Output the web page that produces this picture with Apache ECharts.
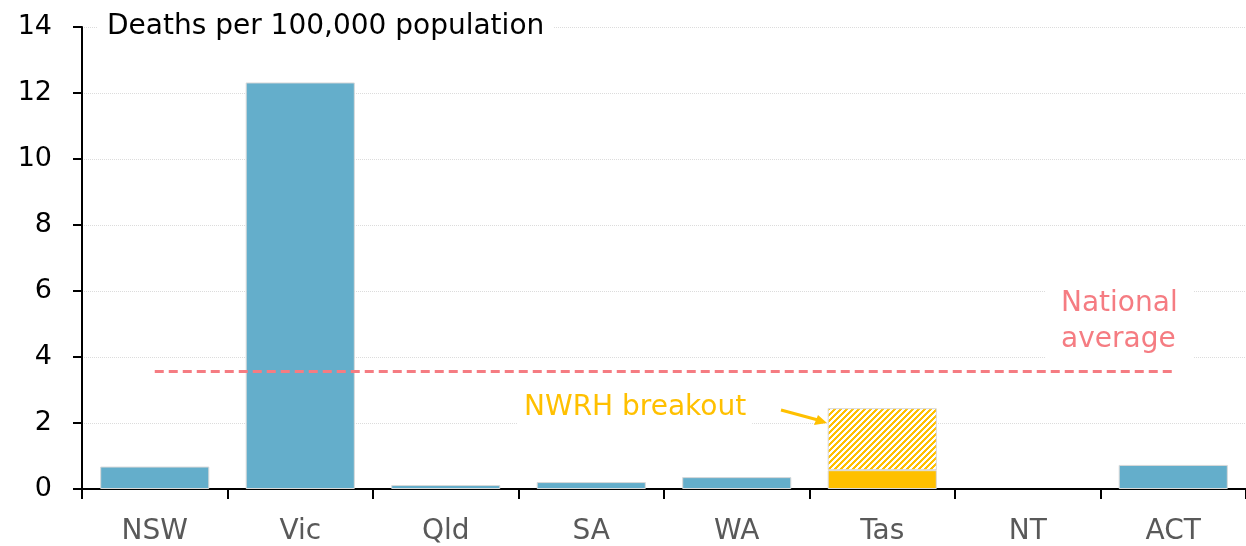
<!DOCTYPE html>
<html>
<head>
<meta charset="utf-8">
<script src="https://cdn.jsdelivr.net/npm/echarts@6/dist/echarts.min.js"></script>
<style>
html,body{margin:0;padding:0;background:#fff;}
#chart{width:1246px;height:546px;}
</style>
</head>
<body>
<div id="chart"></div>
<script>
const categories = ['NSW', 'Vic', 'Qld', 'SA', 'WA', 'Tas', 'NT', 'ACT'];
const deaths = [0.68, 12.32, 0.12, 0.21, 0.36, 0.57, 0, 0.73];
const nwrhBreakout = [null, null, null, null, null, 1.88, null, null];
const nationalAverage = 3.57;
const yTicks = [0, 2, 4, 6, 8, 10, 12, 14];

const FONT = 'DejaVu Sans';
const BLUE = '#64aecb';
const GOLD = '#ffc000';
const PINK = '#f57c82';

function hatch() {
  const c = document.createElement('canvas');
  c.width = 12; c.height = 12;
  const ctx = c.getContext('2d');
  ctx.fillStyle = '#fff';
  ctx.fillRect(0, 0, 12, 12);
  ctx.fillStyle = GOLD;
  for (let x = 0; x < 12; x++) {
    for (let y = 0; y < 12; y++) {
      if ((x + y) % 6 < 3) ctx.fillRect(x, y, 1, 1);
    }
  }
  return c;
}

const chart = echarts.init(document.getElementById('chart'));
chart.setOption({
  animation: false,
  textStyle: { fontFamily: FONT },
  grid: { left: 82, right: -5, top: 27, bottom: 56, containLabel: false },
  xAxis: {
    type: 'category',
    data: categories,
    boundaryGap: true,
    axisLine: { lineStyle: { color: '#000', width: 2 } },
    axisTick: { show: true, length: 10, lineStyle: { color: '#000', width: 2 } },
    axisLabel: { color: '#595959', fontSize: 28, margin: 29, fontFamily: FONT },
    splitLine: { show: false }
  },
  yAxis: {
    type: 'value',
    min: yTicks[0],
    max: yTicks[yTicks.length - 1],
    interval: 2,
    axisLine: { show: true, lineStyle: { color: '#000', width: 2 } },
    axisTick: { show: true, length: 9, lineStyle: { color: '#000', width: 2 } },
    axisLabel: { color: '#000', fontSize: 27, margin: 30, fontFamily: FONT },
    splitLine: { show: true, lineStyle: { color: '#dcdcdc', type: 'dotted', width: 1 } }
  },
  series: [
    {
      type: 'bar',
      name: 'Deaths',
      stack: 'a',
      barWidth: '75%',
      data: deaths.map((v, i) => ({
        value: v,
        itemStyle: {
          color: categories[i] === 'Tas' ? GOLD : BLUE,
          borderWidth: v === 0 ? 0 : 1
        }
      })),
      itemStyle: { borderColor: '#d9d9d9', borderWidth: 1 },
      markLine: {
        silent: true,
        symbol: ['none', 'none'],
        label: { show: false },
        lineStyle: { color: PINK, type: [9, 5], width: 3 },
        data: [[
          { xAxis: categories[0], yAxis: nationalAverage },
          { xAxis: categories[categories.length - 1], yAxis: nationalAverage }
        ]]
      }
    },
    {
      type: 'bar',
      name: 'NWRH breakout',
      stack: 'a',
      barWidth: '75%',
      data: nwrhBreakout,
      itemStyle: {
        color: { image: hatch(), repeat: 'repeat' },
        borderColor: '#d9d9d9',
        borderWidth: 1
      }
    }
  ],
  graphic: [
    {
      type: 'text', left: 98, top: 11, z: 100,
      style: {
        text: 'Deaths per 100,000 population', fill: '#000', font: '28px ' + FONT,
        backgroundColor: '#fff', padding: [2, 9]
      }
    },
    {
      type: 'text', left: 1045, top: 286, z: 100,
      style: {
        text: 'National\naverage', fill: PINK, font: '28px ' + FONT, align: 'center',
        lineHeight: 36, backgroundColor: '#fff', padding: [0, 16]
      }
    },
    {
      type: 'text', left: 518, top: 392, z: 100,
      style: {
        text: 'NWRH breakout', fill: GOLD, font: '28px ' + FONT,
        backgroundColor: '#fff', padding: [2, 6]
      }
    },
    {
      type: 'line', z: 100,
      shape: { x1: 781, y1: 410, x2: 818, y2: 420 },
      style: { stroke: GOLD, lineWidth: 3 }
    },
    {
      type: 'polygon', z: 100,
      shape: { points: [[827, 423], [814, 425], [818, 415]] },
      style: { fill: GOLD }
    }
  ]
});
</script>
</body>
</html>
